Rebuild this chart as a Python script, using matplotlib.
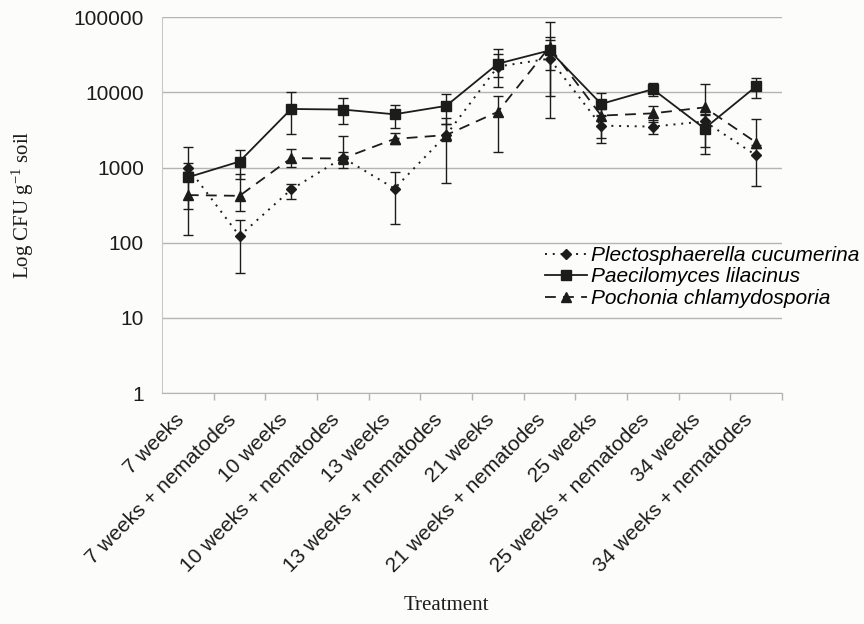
import matplotlib
matplotlib.use("Agg")
import matplotlib.pyplot as plt
import matplotlib.transforms as mtransforms
import numpy as np

categories = ['7 weeks', '7 weeks + nematodes', '10 weeks', '10 weeks + nematodes',
              '13 weeks', '13 weeks + nematodes', '21 weeks', '21 weeks + nematodes',
              '25 weeks', '25 weeks + nematodes', '34 weeks', '34 weeks + nematodes']

series_names = ['Plectosphaerella cucumerina', 'Paecilomyces lilacinus', 'Pochonia chlamydosporia']

plecto = [1000, 123, 510, 1350, 525, 2700, 22000, 28000, 3600, 3500, 4100, 1450]
plecto_lo = [860, 39, 385, 1100, 180, 2250, 11700, 4600, 2150, 2770, 3300, 570]
plecto_hi = [1150, 200, 600, 1600, 860, 3800, 32500, 50000, 4900, 4300, 5000, 2000]

paec = [740, 1200, 6000, 5900, 5100, 6600, 24000, 36000, 7000, 11000, 3300, 12000]
paec_lo = [285, 700, 2760, 3800, 3400, 3800, 15800, 20000, 5000, 9000, 1500, 8500]
paec_hi = [1850, 1700, 10000, 8300, 6800, 9500, 38000, 55000, 9800, 13500, 5200, 15400]

poch = [430, 420, 1330, 1320, 2400, 2700, 5500, 40000, 4900, 5250, 6300, 2150]
poch_lo = [125, 265, 1030, 1000, 2040, 630, 1600, 8900, 2500, 4000, 1850, 1800]
poch_hi = [860, 815, 1750, 2600, 2900, 4500, 9000, 87000, 6000, 6500, 12900, 4400]

yticks = [1, 10, 100, 1000, 10000, 100000]
ytick_labels = ['1', '10', '100', '1000', '10000', '100000']

plt.rcParams['mathtext.fontset'] = 'custom'
plt.rcParams['mathtext.rm'] = 'Liberation Serif'
plt.rcParams['mathtext.it'] = 'Liberation Serif:italic'

bg = '#fcfcfa'
ink = '#1c1c1c'
grid = '#b4b4b4'

fig = plt.figure(figsize=(8.64, 6.24), dpi=100, facecolor=bg)
ax = fig.add_axes([0.1875, 0.370, 0.7176, 0.6026], facecolor=bg)

x = np.arange(len(categories))

def err(v, lo, hi):
    v = np.array(v, float)
    return np.vstack([v - np.array(lo, float), np.array(hi, float) - v])

c1 = ax.errorbar(x, plecto, yerr=err(plecto, plecto_lo, plecto_hi), color=ink,
                 linestyle=(0, (1, 3)), lw=1.4, marker='D', ms=5, capsize=3.5,
                 elinewidth=1.0, capthick=1.0, zorder=3)
c2 = ax.errorbar(x, paec, yerr=err(paec, paec_lo, paec_hi), color=ink,
                 linestyle='-', lw=1.3, marker='s', ms=7, capsize=3.5,
                 elinewidth=1.0, capthick=1.0, zorder=4)
c3 = ax.errorbar(x, poch, yerr=err(poch, poch_lo, poch_hi), color=ink,
                 linestyle=(0, (6, 4)), lw=1.3, marker='^', ms=7, capsize=3.5,
                 elinewidth=1.0, capthick=1.0, zorder=3)

ax.set_yscale('log')
ax.set_ylim(1, 100000)
ax.set_yticks(yticks)
ax.set_yticklabels(ytick_labels, fontsize=15, family='Liberation Sans', color=ink)
ax.yaxis.set_minor_locator(matplotlib.ticker.NullLocator())
ax.tick_params(axis='y', length=0, pad=13)
ax.yaxis.grid(True, color=grid, lw=1.0)
ax.set_axisbelow(True)

ax.set_xlim(-0.5, len(categories) - 0.5)
ax.set_xticks(x)
ax.set_xticklabels(categories, rotation=45, ha='right', fontsize=15,
                   family='Liberation Sans', color=ink)
offset = mtransforms.ScaledTranslation(-4 / 100, 0, fig.dpi_scale_trans)
for lab in ax.get_xticklabels():
    lab.set_transform(lab.get_transform() + offset)
ax.set_xticks(np.arange(0.5, len(categories), 1), minor=True)
ax.tick_params(axis='x', which='major', length=0, pad=12)
ax.tick_params(axis='x', which='minor', length=5, color=grid, width=1.0)

for s in ['top', 'right']:
    ax.spines[s].set_visible(False)
ax.spines['left'].set_color('#c8c8c8')
ax.spines['bottom'].set_color(grid)

ax.set_ylabel('Log CFU g$^{-1}$ soil', family='Liberation Serif', fontsize=15, color=ink)
ax.yaxis.set_label_coords(-0.203, 0.5)
fig.text(446 / 864, 1 - 606 / 624, 'Treatment', family='Liberation Serif', fontsize=15,
         color=ink, ha='center', va='center')

leg = ax.legend(handles=[c1[0], c2[0], c3[0]], labels=series_names,
                loc='upper left', bbox_to_anchor=(545 / 864, 1 - 246 / 624),
                bbox_transform=fig.transFigure, frameon=False,
                prop={'family': 'Liberation Sans', 'style': 'italic', 'size': 15},
                handlelength=2.0, handletextpad=0.2, labelspacing=0.12,
                borderpad=0, borderaxespad=0)

fig.savefig('out.png', dpi=100, facecolor=bg)
